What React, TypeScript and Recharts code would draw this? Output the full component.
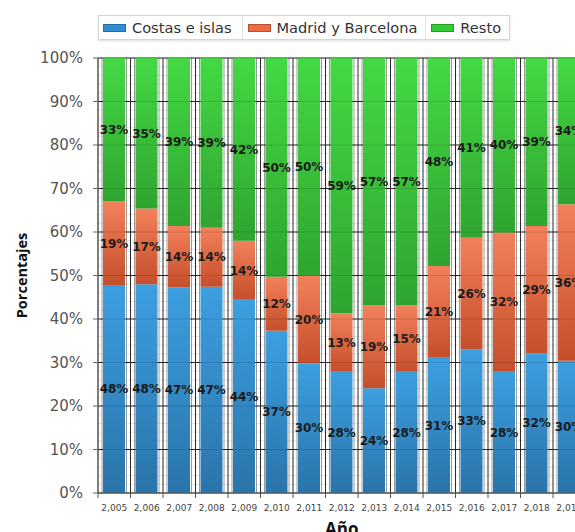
import React from 'react';
import { BarChart, Bar, XAxis, YAxis, CartesianGrid, LabelList, ReferenceLine } from 'recharts';

// Distribución de viajeros por zona (%), 2005-2019
const years = [2005, 2006, 2007, 2008, 2009, 2010, 2011, 2012, 2013, 2014, 2015, 2016, 2017, 2018, 2019];
const costas = [47.8, 48.0, 47.3, 47.4, 44.4, 37.3, 29.8, 27.9, 24.1, 27.9, 31.1, 33.0, 27.9, 32.1, 30.4];
const madrid = [19.2, 17.4, 14.1, 13.6, 13.6, 12.4, 20.1, 13.4, 19.0, 15.2, 21.1, 25.7, 32.0, 29.3, 36.0];
const resto = [33.0, 34.6, 38.6, 39.0, 42.0, 50.3, 50.1, 58.7, 56.9, 56.9, 47.8, 41.3, 40.1, 38.6, 33.6];

const yTicks = [0, 10, 20, 30, 40, 50, 60, 70, 80, 90, 100];
const minorTicks = [2, 4, 6, 8, 12, 14, 16, 18, 22, 24, 26, 28, 32, 34, 36, 38, 42, 44, 46, 48, 52, 54, 56, 58,
  62, 64, 66, 68, 72, 74, 76, 78, 82, 84, 86, 88, 92, 94, 96, 98];

const series = [
  { key: 'costas', name: 'Costas e islas', top: '#3c9fe0', bottom: '#2a74aa', swatch: '#2f8fd6' },
  { key: 'madrid', name: 'Madrid y Barcelona', top: '#f2815a', bottom: '#c54f2b', swatch: '#ee6c44' },
  { key: 'resto', name: 'Resto', top: '#44d944', bottom: '#2fa52f', swatch: '#33cc33' },
];

const data = years.map((y, i) => ({
  year: y.toLocaleString('en-US'),
  costas: costas[i],
  madrid: madrid[i],
  resto: resto[i],
}));

const yPos = (offset: any, v: number) => offset.top + offset.height * (1 - v / 100);

const YearTick = (props: any) => {
  const { x, y, payload, index } = props;
  const half = payload && payload.offset ? payload.offset : 16.25;
  return (
    <g>
      <line x1={x - half} x2={x - half} y1={y} y2={y + 5} stroke="#555" />
      {index === years.length - 1 && <line x1={x + half} x2={x + half} y1={y} y2={y + 5} stroke="#555" />}
      <text x={x} y={y + 18} textAnchor="middle" fontSize={9} fill="#444" fontFamily="DejaVu Sans">
        {payload.value}
      </text>
    </g>
  );
};

function Legend() {
  return (
    <div
      style={{
        position: 'absolute', left: 98, top: 15, height: 23, display: 'flex', alignItems: 'stretch',
        border: '1px solid #d6d6d6', background: '#fff', boxShadow: '0 1px 2px rgba(0,0,0,0.15)',
        fontFamily: 'DejaVu Sans', fontSize: 14.6, color: '#333', zIndex: 2,
      }}
    >
      {series.map((s, i) => (
        <div
          key={s.key}
          style={{
            display: 'flex', alignItems: 'center', padding: i === 0 ? '0 10px 0 4px' : '0 8px 0 5px',
            borderLeft: i === 0 ? 'none' : '1px solid #e2e2e2',
          }}
        >
          <span style={{ width: 21, height: 6, background: s.swatch, border: '1px solid rgba(0,0,0,0.25)', marginRight: 6 }} />
          <span>{s.name}</span>
        </div>
      ))}
    </div>
  );
}

export default function App() {
  return (
    <div style={{ position: 'fixed', left: 0, top: 0, width: 575, height: 532, overflow: 'hidden', background: '#fff' }}>
      <Legend />
      <BarChart
        width={600}
        height={532}
        data={data}
        margin={{ top: 58, right: 14.5, bottom: 0, left: 0 }}
        barSize={22}
      >
        <defs>
          {series.map((s) => (
            <linearGradient key={s.key} id={`g-${s.key}`} x1="0" y1="0" x2="0" y2="1">
              <stop offset="0%" stopColor={s.top} />
              <stop offset="100%" stopColor={s.bottom} />
            </linearGradient>
          ))}
        </defs>
        <CartesianGrid
          vertical={false}
          stroke="#e4e4e4"
          horizontalCoordinatesGenerator={({ offset }: any) => minorTicks.map((v) => yPos(offset, v))}
        />
        <CartesianGrid
          horizontal={false}
          stroke="#9a9a9a"
          verticalCoordinatesGenerator={({ offset }: any) => {
            const bw = offset.width / years.length;
            const pts: number[] = [];
            years.forEach((_, i) => {
              pts.push(offset.left + i * bw + 4);
              pts.push(offset.left + (i + 1) * bw - 4);
            });
            return pts;
          }}
        />
        <CartesianGrid
          stroke="#2a2a2a"
          horizontalCoordinatesGenerator={({ offset }: any) => yTicks.map((v) => yPos(offset, v))}
          verticalCoordinatesGenerator={({ offset }: any) => {
            const bw = offset.width / years.length;
            return years.map((_, i) => offset.left + i * bw).concat([offset.left + offset.width]);
          }}
        />
        <XAxis
          dataKey="year"
          height={39}
          interval={0}
          tickLine={false}
          tickSize={0}
          tickMargin={0}
          stroke="#666"
          tick={<YearTick />}
          label={{
            content: ({ viewBox }: any) => (
              <text
                x={viewBox.x + viewBox.width / 2}
                y={viewBox.y + 42}
                textAnchor="middle"
                fontSize={17}
                fontWeight="bold"
                fontFamily="Open Sans"
                fill="#111"
              >
                Año
              </text>
            ),
          }}
        />
        <YAxis
          width={98}
          domain={[0, 100]}
          ticks={yTicks}
          interval={0}
          tickFormatter={(v) => `${v}%`}
          tickSize={5}
          tickMargin={10}
          stroke="#666"
          tick={{ fontSize: 15, fill: '#555', fontFamily: 'DejaVu Sans' }}
          label={{
            content: ({ viewBox }: any) => (
              <text
                x={21}
                y={viewBox.y + viewBox.height / 2}
                transform={`rotate(-90, 21, ${viewBox.y + viewBox.height / 2})`}
                textAnchor="middle"
                dominantBaseline="central"
                fontSize={14.5}
                fontWeight="bold"
                fontFamily="Open Sans"
                fill="#111"
              >
                Porcentajes
              </text>
            ),
          }}
        />
        {series.map((s) => (
          <Bar key={s.key} dataKey={s.key} name={s.name} stackId="a" fill={`url(#g-${s.key})`} isAnimationActive={false}>
            <LabelList
              dataKey={s.key}
              position="center"
              formatter={(v: any) => `${Math.round(Number(v))}%`}
              fill="#1a1a1a"
              fontSize={12}
              fontWeight="bold"
              fontFamily="DejaVu Sans"
            />
          </Bar>
        ))}
        {yTicks.map((v) => (
          <ReferenceLine key={v} y={v} stroke="rgba(0,0,0,0.12)" ifOverflow="visible" />
        ))}
      </BarChart>
    </div>
  );
}
